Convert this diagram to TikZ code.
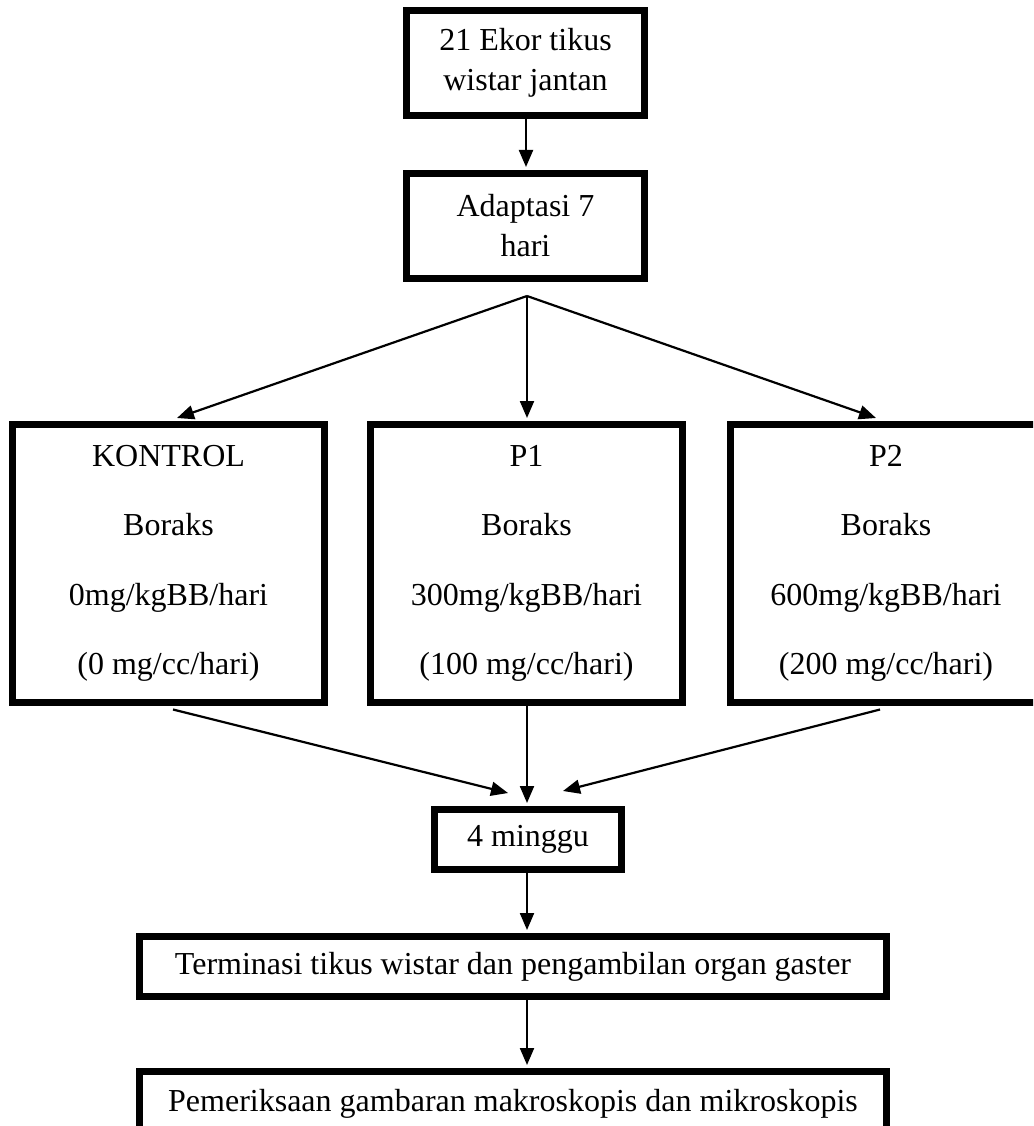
\documentclass[tikz,border=0pt]{standalone}
\usepackage{fontspec}
\setmainfont{Liberation Serif}
\usetikzlibrary{arrows.meta,calc}
\begin{document}
\begin{tikzpicture}[x=1pt,y=-1pt,
  box/.style={draw,line width=7pt,inner sep=0pt,align=center,font=\fontsize{32}{40}\selectfont},
  big/.style={box,minimum width=312pt,minimum height=278pt,font=\fontsize{32}{69.5}\selectfont},
  arr/.style={line width=2.2pt,-{Triangle[length=17pt,width=14pt]}}]
\useasboundingbox (0,0) rectangle (1033,1126);
\clip (0,0) rectangle (1033,1126);
% top boxes
\node[box,minimum width=238pt,minimum height=105pt] (a) at (525.5,63) {21 Ekor tikus\\wistar jantan};
\node[box,minimum width=238pt,minimum height=105pt] (b) at (525.5,226) {Adaptasi 7\\hari};
% group boxes
\node[big] (k) at (168.5,563.5) {KONTROL\\Boraks\\0mg/kgBB/hari\\(0 mg/cc/hari)};
\node[big] (p1) at (526.5,563.5) {P1\\Boraks\\300mg/kgBB/hari\\(100 mg/cc/hari)};
\node[big] (p2) at (886,563.5) {P2\\Boraks\\600mg/kgBB/hari\\(200 mg/cc/hari)};
% lower boxes
\node[box,minimum width=187pt,minimum height=60pt] (m) at (528,839.5) {4 minggu};
\node[box,minimum width=747pt,minimum height=60pt] (t) at (513,966.5) {Terminasi tikus wistar dan pengambilan organ gaster};
\node[box,minimum width=747pt,minimum height=65pt] (e) at (513,1104) {Pemeriksaan gambaran makroskopis dan mikroskopis};
% connectors
\coordinate (s) at (527,296);
\draw[arr] (a.south -| 526,0) -- ($(b.north -| 526,0)+(0,-3)$);
\draw[arr] (s) -- ($(k.north)+(8.5,-3)$);
\draw[arr] (s) -- ($(p1.north)+(0.5,-3)$);
\draw[arr] (s) -- ($(p2.north)+(-10,-3)$);
\draw[arr] ($(k.south)+(4.5,3.5)$) -- ($(m.north)+(-20,-13)$);
\draw[arr] ($(p1.south)+(0.5,0)$) -- ($(m.north)+(-1,-3)$);
\draw[arr] ($(p2.south)+(-6,3.5)$) -- ($(m.north)+(35,-15)$);
\draw[arr] ($(m.south)+(-1,0)$) -- ($(m.south -| 527,0) !1! (t.north -| 527,0)+(0,-3)$);
\draw[arr] (t.south -| 527,0) -- ($(e.north -| 527,0)+(0,-3)$);
\end{tikzpicture}
\end{document}
